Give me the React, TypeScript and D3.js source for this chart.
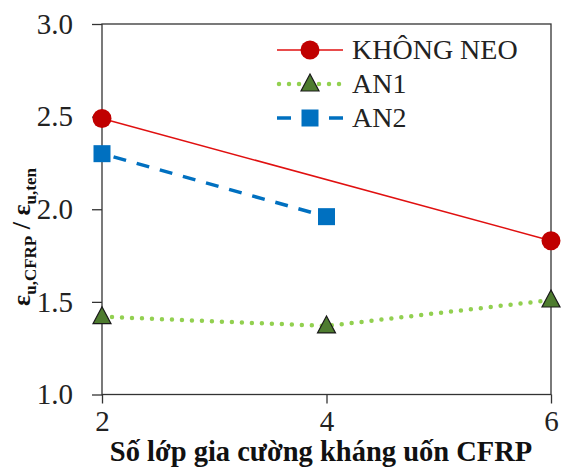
import { useRef, useEffect } from "react";
import * as d3 from "d3";

// number of CFRP layers
const layers = [2, 4, 6];

// eps_u,CFRP / eps_u,ten per series
const khongNeo: [number, number][] = [[2, 2.49], [6, 1.83]];
const an1: [number, number][] = [[2, 1.42], [4, 1.37], [6, 1.51]];
const an2: [number, number][] = [[2, 2.3], [4, 1.96]];

const yTicks = [1.0, 1.5, 2.0, 2.5, 3.0];
const legendLabels = ["KHÔNG NEO", "AN1", "AN2"];

export default function App() {
  const ref = useRef<SVGSVGElement>(null);

  useEffect(() => {
    const svg = d3.select(ref.current);
    svg.selectAll("*").remove();

    const W = 563;
    const H = 473;
    const left = 102, right = 551, top = 24, bottom = 394.5;
    const font = "Liberation Serif, Times New Roman, serif";
    const axisColor = "#333";

    const x = d3.scaleLinear().domain([2, 6]).range([left, right]);
    const y = d3.scaleLinear().domain([1, 3]).range([bottom, top]);

    svg.attr("width", W).attr("height", H);

    // frame
    svg.append("rect")
      .attr("x", left)
      .attr("y", top)
      .attr("width", right - left)
      .attr("height", bottom - top)
      .attr("fill", "none")
      .attr("stroke", axisColor)
      .attr("stroke-width", 1.3);

    // y axis
    const yAxis = svg.append("g")
      .attr("transform", `translate(${left},0)`)
      .call(d3.axisLeft(y).tickValues(yTicks).tickSize(10).tickPadding(19).tickFormat(d3.format(".1f")));
    yAxis.attr("font-family", font).attr("font-size", 29);
    yAxis.select(".domain").remove();
    yAxis.selectAll("line").attr("stroke", axisColor).attr("stroke-width", 1.3);
    yAxis.selectAll("text").attr("fill", "#222");

    // x axis
    const xAxis = svg.append("g")
      .attr("transform", `translate(0,${bottom})`)
      .call(d3.axisBottom(x).tickValues(layers).tickSize(9).tickPadding(7).tickFormat(d3.format("d")));
    xAxis.attr("font-family", font).attr("font-size", 29);
    xAxis.select(".domain").remove();
    xAxis.selectAll("line").attr("stroke", axisColor).attr("stroke-width", 1.3);
    xAxis.selectAll("text").attr("fill", "#222");

    // axis titles
    svg.append("text")
      .attr("x", 321)
      .attr("y", 461)
      .attr("text-anchor", "middle")
      .attr("font-family", font)
      .attr("font-size", 28.5)
      .attr("font-weight", "bold")
      .attr("fill", "#111")
      .text("Số lớp gia cường kháng uốn CFRP");

    const yt = svg.append("text")
      .attr("transform", `translate(30,237) rotate(-90)`)
      .attr("text-anchor", "middle")
      .attr("font-family", font)
      .attr("font-weight", "bold")
      .attr("font-size", 26)
      .attr("fill", "#111");
    yt.append("tspan").text("ε");
    yt.append("tspan").attr("font-size", 17).attr("dy", 6).text("u,CFRP");
    yt.append("tspan").attr("dy", -6).text(" / ε");
    yt.append("tspan").attr("font-size", 17).attr("dy", 6).text("u,ten");

    const line = d3.line<[number, number]>()
      .x((d) => x(d[0]))
      .y((d) => y(d[1]));

    // lines
    svg.append("path")
      .datum(khongNeo)
      .attr("fill", "none")
      .attr("stroke", "#e01010")
      .attr("stroke-width", 1.5)
      .attr("d", line);

    svg.append("path")
      .datum(an1)
      .attr("fill", "none")
      .attr("stroke", "#92d050")
      .attr("stroke-width", 4.5)
      .attr("stroke-linecap", "round")
      .attr("stroke-dasharray", "0 10")
      .attr("d", line);

    svg.append("path")
      .datum(an2)
      .attr("fill", "none")
      .attr("stroke", "#0070c0")
      .attr("stroke-width", 3.5)
      .attr("stroke-dasharray", "13 11")
      .attr("stroke-dashoffset", -12)
      .attr("d", line);

    // markers
    const circle = (g, cx, cy) =>
      g.append("circle").attr("cx", cx).attr("cy", cy).attr("r", 9.5).attr("fill", "#c00000");
    const tri = (g, cx, cy) =>
      g.append("path")
        .attr("d", `M${cx},${cy - 10}L${cx + 9},${cy + 7}L${cx - 9},${cy + 7}Z`)
        .attr("fill", "#4e7c2f")
        .attr("stroke", "#1a1a1a")
        .attr("stroke-width", 1.2);
    const square = (g, cx, cy) =>
      g.append("rect").attr("x", cx - 8.5).attr("y", cy - 8.5).attr("width", 17).attr("height", 17).attr("fill", "#0070c0");

    const marks = svg.append("g");
    khongNeo.forEach((d) => circle(marks, x(d[0]), y(d[1])));
    an1.forEach((d) => tri(marks, x(d[0]), y(d[1])));
    an2.forEach((d) => square(marks, x(d[0]), y(d[1])));

    // legend
    const legend = svg.append("g");
    const rowY = [50, 84, 118];
    const lx0 = 277, lx1 = 343, lm = 310;
    legendLabels.forEach((label, i) => {
      const yy = rowY[i];
      const seg = legend.append("line")
        .attr("x1", lx0).attr("x2", lx1).attr("y1", yy).attr("y2", yy);
      if (i === 0) {
        seg.attr("stroke", "#e01010").attr("stroke-width", 1.5);
        circle(legend, lm, yy);
      } else if (i === 1) {
        seg.attr("stroke", "#92d050").attr("stroke-width", 4.5)
          .attr("stroke-linecap", "round").attr("stroke-dasharray", "0 10")
          .attr("x1", lx0 + 2).attr("x2", lx1 - 1);
        tri(legend, lm, yy);
      } else {
        seg.attr("stroke", "#0070c0").attr("stroke-width", 3.5)
          .attr("stroke-dasharray", "14 38");
        square(legend, lm, yy);
      }
      legend.append("text")
        .attr("x", 352)
        .attr("y", yy + 8.5)
        .attr("font-family", font)
        .attr("font-size", 28)
        .attr("fill", "#222")
        .text(label);
    });
  }, []);

  return (
    <svg ref={ref} style={{ position: "absolute", left: 0, top: 0, background: "#fff" }}></svg>
  );
}
